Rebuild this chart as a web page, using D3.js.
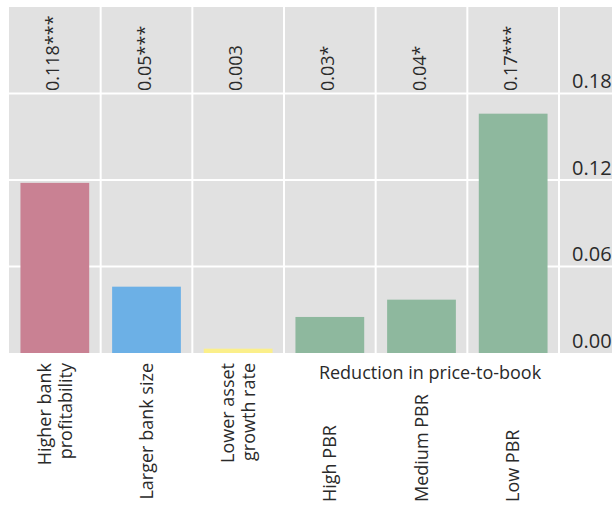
<!DOCTYPE html>
<html><head><meta charset="utf-8">
<script src="https://cdn.jsdelivr.net/npm/d3@7"></script>
<style>body{margin:0;background:#fff}svg{display:block}text{font-family:"Open Sans","Noto Sans",sans-serif;fill:#2a2a2a}</style>
</head><body>
<svg id="c" width="612" height="508"></svg>
<script>
const categories = ["Higher bank profitability","Larger bank size","Lower asset growth rate","High PBR","Medium PBR","Low PBR"];
const labelLines = [["Higher bank","profitability"],["Larger bank size"],["Lower asset","growth rate"],["High PBR"],["Medium PBR"],["Low PBR"]];
const values = [0.118, 0.046, 0.003, 0.025, 0.037, 0.166];
const valueLabels = ["0.118***","0.05***","0.003","0.03*","0.04*","0.17***"];
const colors = ["#c98193","#6cb0e6","#fbef8a","#8eb89e","#8eb89e","#8eb89e"];
const yTicks = [0, 0.06, 0.12, 0.18];
const yTickLabels = ["0.00","0.06","0.12","0.18"];
const groupLabel = "Reduction in price-to-book";

const svg = d3.select("#c");
const L = 9, R = 559, T = 7, B = 353, W = 612;
const x = d3.scaleBand().domain(categories).range([L, R]).paddingInner(0.25).paddingOuter(0.125);
const y = d3.scaleLinear().domain([0, 0.24]).range([B, T]);
const step = x.step();

svg.append("rect").attr("x", L).attr("y", T).attr("width", W - L).attr("height", B - T).attr("fill", "#e1e1e1");

svg.append("g").selectAll("line").data(yTicks.slice(1)).join("line")
  .attr("x1", L).attr("x2", W).attr("y1", d => y(d)).attr("y2", d => y(d))
  .attr("stroke", "#fff").attr("stroke-width", 2);
svg.append("g").selectAll("line").data(categories).join("line")
  .attr("x1", d => x(d) + x.bandwidth() + step * x.paddingInner() / 2)
  .attr("x2", d => x(d) + x.bandwidth() + step * x.paddingInner() / 2)
  .attr("y1", T).attr("y2", B).attr("stroke", "#fff").attr("stroke-width", 2);

svg.append("g").selectAll("rect").data(categories).join("rect")
  .attr("x", d => x(d)).attr("width", x.bandwidth())
  .attr("y", (d, i) => y(values[i])).attr("height", (d, i) => y(0) - y(values[i]))
  .attr("fill", (d, i) => colors[i]);

svg.append("g").selectAll("text").data(categories).join("text")
  .attr("transform", d => `translate(${x(d) + x.bandwidth() / 2 - 2},91) rotate(-90)`)
  .attr("text-anchor", "start").attr("dy", "0.35em").attr("font-size", 18)
  .text((d, i) => valueLabels[i]);

const yAxis = svg.append("g").attr("transform", `translate(572,0)`)
  .call(d3.axisRight(y).tickValues(yTicks).tickSize(0).tickFormat((d, i) => yTickLabels[i]));
yAxis.select(".domain").remove();
yAxis.selectAll("text").attr("x", 0).attr("dy", "-0.3em").attr("font-size", 20)
  .attr("font-family", '"Open Sans","Noto Sans",sans-serif').attr("fill", "#2a2a2a");

const cl = svg.append("g");
categories.forEach((c, i) => {
  const cx = x(c) + x.bandwidth() / 2;
  const lines = labelLines[i];
  const top = i < 3;
  const t = cl.append("text")
    .attr("transform", `translate(${cx},${top ? 363 : 502}) rotate(-90)`)
    .attr("text-anchor", top ? "end" : "start").attr("font-size", 18);
  lines.forEach((ln, j) => {
    const off = (j - (lines.length - 1) / 2) * 21;
    t.append("tspan").attr("x", 0).attr("y", off).attr("dy", "0.35em").text(ln);
  });
});

svg.append("text").attr("x", 430).attr("y", 379).attr("text-anchor", "middle")
  .attr("font-size", 18).text(groupLabel);
</script>
</body></html>
